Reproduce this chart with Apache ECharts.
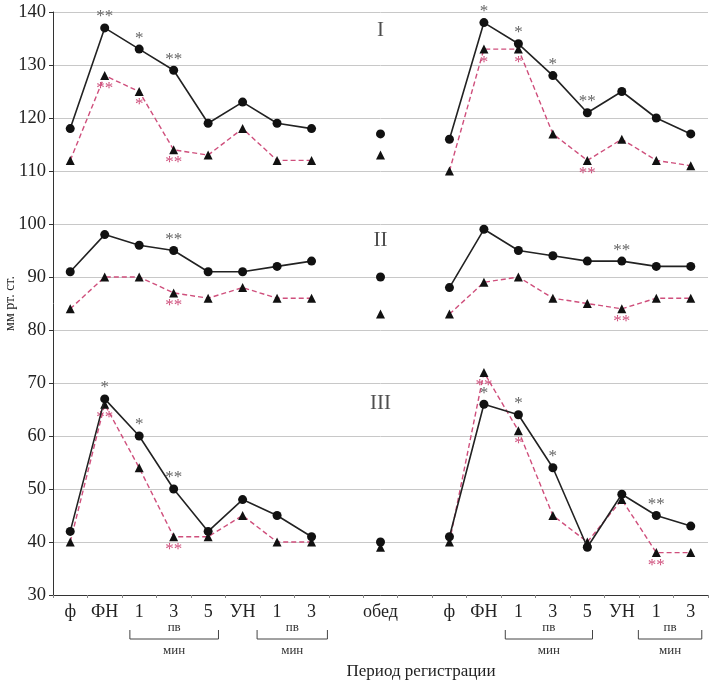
<!DOCTYPE html>
<html><head><meta charset="utf-8">
<script src="https://cdn.jsdelivr.net/npm/echarts@6/dist/echarts.min.js"></script>
<style>html,body{margin:0;padding:0;background:#fff}#c{width:711px;height:683px}</style>
</head><body><div id="c"></div>
<script>
// ---- data ----
const categoryLabels = ['ф','ФН','1','3','5','УН','1','3','','обед','','ф','ФН','1','3','5','УН','1','3'];
const yTicks = [30,40,50,60,70,80,90,100,110,120,130,140];

const panelI_circle   = [118,137,133,129,119,123,119,118,null,117,null,116,138,134,128,121,125,120,117];
const panelI_triangle = [112,128,125,114,113,118,112,112,null,113,null,110,133,133,117,112,116,112,111];
const panelII_circle   = [91,98,96,95,91,91,92,93,null,90,null,88,99,95,94,93,93,92,92];
const panelII_triangle = [84,90,90,87,86,88,86,86,null,83,null,83,89,90,86,85,84,86,86];
const panelIII_circle   = [42,67,60,50,42,48,45,41,null,40,null,41,66,64,54,39,49,45,43];
const panelIII_triangle = [40,66,54,41,41,45,40,40,null,39,null,40,72,61,45,40,48,38,38];

const sigI_circle    = ['','**','*','**','','','','','','','','','*','*','*','**','','',''];
const sigI_triangle  = ['','**','*','**','','','','','','','','','*','*','','**','','',''];
const sigII_circle   = ['','','','**','','','','','','','','','','','','','**','',''];
const sigII_triangle = ['','','','**','','','','','','','','','','','','','**','',''];
const sigIII_circle  = ['','*','*','**','','','','','','','','','*','*','*','','','**',''];
const sigIII_triangle= ['','**','','**','','','','','','','','','**','*','','','','**',''];

const panelNames = ['I','II','III'];
const panelNameValues = [136.6, 96.8, 66.2];
const bracketSpans = [[1.73,4.3],[5.42,7.46],[12.62,15.15],[16.48,18.32]];

// ---- chart ----
const serif = 'Liberation Serif';
const pink = '#cf4f7c';
const chart = echarts.init(document.getElementById('c'));

function circleSeries(data, sig){
  return {type:'line', data, connectNulls:false, showAllSymbol:true,
    symbol:'circle', symbolSize:9, z:3,
    itemStyle:{color:'#111'}, lineStyle:{color:'#222', width:1.6},
    label:{show:true, position:'top', distance:-2, color:'#666', fontSize:17, fontFamily:serif,
      formatter:p=>sig[p.dataIndex]}};
}
function triSeries(data, sig){
  return {type:'line', data, connectNulls:false, showAllSymbol:true,
    symbol:'triangle', symbolSize:9, z:2,
    itemStyle:{color:'#111'}, lineStyle:{color:pink, width:1.4, type:[5,3]},
    label:{show:true, position:'bottom', distance:0, color:pink, fontSize:17, fontFamily:serif,
      formatter:p=>sig[p.dataIndex]}};
}

const option = {
  animation:false,
  grid:{left:53, right:3, top:12, bottom:88, containLabel:false, outerBoundsMode:'none'},
  xAxis:{type:'category', data:categoryLabels.map((_,i)=>String(i)), boundaryGap:true,
    axisLine:{lineStyle:{color:'#333', width:1}},
    axisTick:{show:true, length:3, lineStyle:{color:'#888'}},
    axisLabel:{formatter:(v,i)=>categoryLabels[i], interval:0, color:'#222', fontSize:18, fontFamily:serif, margin:8}},
  yAxis:{type:'value', min:30, max:140, interval:10,
    axisLine:{show:true, lineStyle:{color:'#333', width:1}},
    axisTick:{show:true, length:4, lineStyle:{color:'#333'}},
    axisLabel:{color:'#222', fontSize:18.5, fontFamily:serif, margin:7,
      formatter:v=>yTicks.includes(v)?String(v):''},
    splitLine:{show:true, lineStyle:{color:'#c8c8c8', width:1}}},
  series:[
    triSeries(panelI_triangle, sigI_triangle),
    circleSeries(panelI_circle, sigI_circle),
    triSeries(panelII_triangle, sigII_triangle),
    circleSeries(panelII_circle, sigII_circle),
    triSeries(panelIII_triangle, sigIII_triangle),
    circleSeries(panelIII_circle, sigIII_circle),
    {type:'scatter', symbol:'circle', symbolSize:1, itemStyle:{color:'rgba(0,0,0,0)'},
      data:panelNameValues.map((v,i)=>[9,v,panelNames[i]]),
      label:{show:true, position:'inside', formatter:p=>p.data[2], fontFamily:serif, fontSize:21, color:'#222'}}
  ]
};
chart.setOption(option);

// brackets under x axis
const yBase = chart.convertToPixel({yAxisIndex:0}, 30);
const yTop = chart.convertToPixel({yAxisIndex:0}, 140);
const x0 = chart.convertToPixel({xAxisIndex:0}, 0);
const step = chart.convertToPixel({xAxisIndex:0}, 1) - x0;
const g = [];
bracketSpans.forEach(([a,b])=>{
  const x1 = x0 + a*step, x2 = x0 + b*step;
  const ly = yBase + 44, ty = yBase + 35;
  g.push({type:'polyline', shape:{points:[[x1,ty],[x1,ly],[x2,ly],[x2,ty]]}, style:{stroke:'#444', lineWidth:1, fill:null}});
  g.push({type:'text', style:{text:'пв', x:(x1+x2)/2, y:yBase+33, textAlign:'center', textVerticalAlign:'middle', fontFamily:serif, fontSize:13, fill:'#333'}});
  g.push({type:'text', style:{text:'мин', x:(x1+x2)/2, y:yBase+56, textAlign:'center', textVerticalAlign:'middle', fontFamily:serif, fontSize:13, fill:'#333'}});
});
g.push({type:'text', style:{text:'Период регистрации', x:421, y:yBase+77, textAlign:'center', textVerticalAlign:'middle', fontFamily:serif, fontSize:17, fill:'#222'}});
g.push({type:'text', x:10, y:(yBase+yTop)/2, rotation:Math.PI/2,
  style:{text:'мм рт. ст.', x:0, y:0, textAlign:'center', textVerticalAlign:'middle', fontFamily:serif, fontSize:14, fill:'#222'}});
chart.setOption({graphic:g});
</script></body></html>
